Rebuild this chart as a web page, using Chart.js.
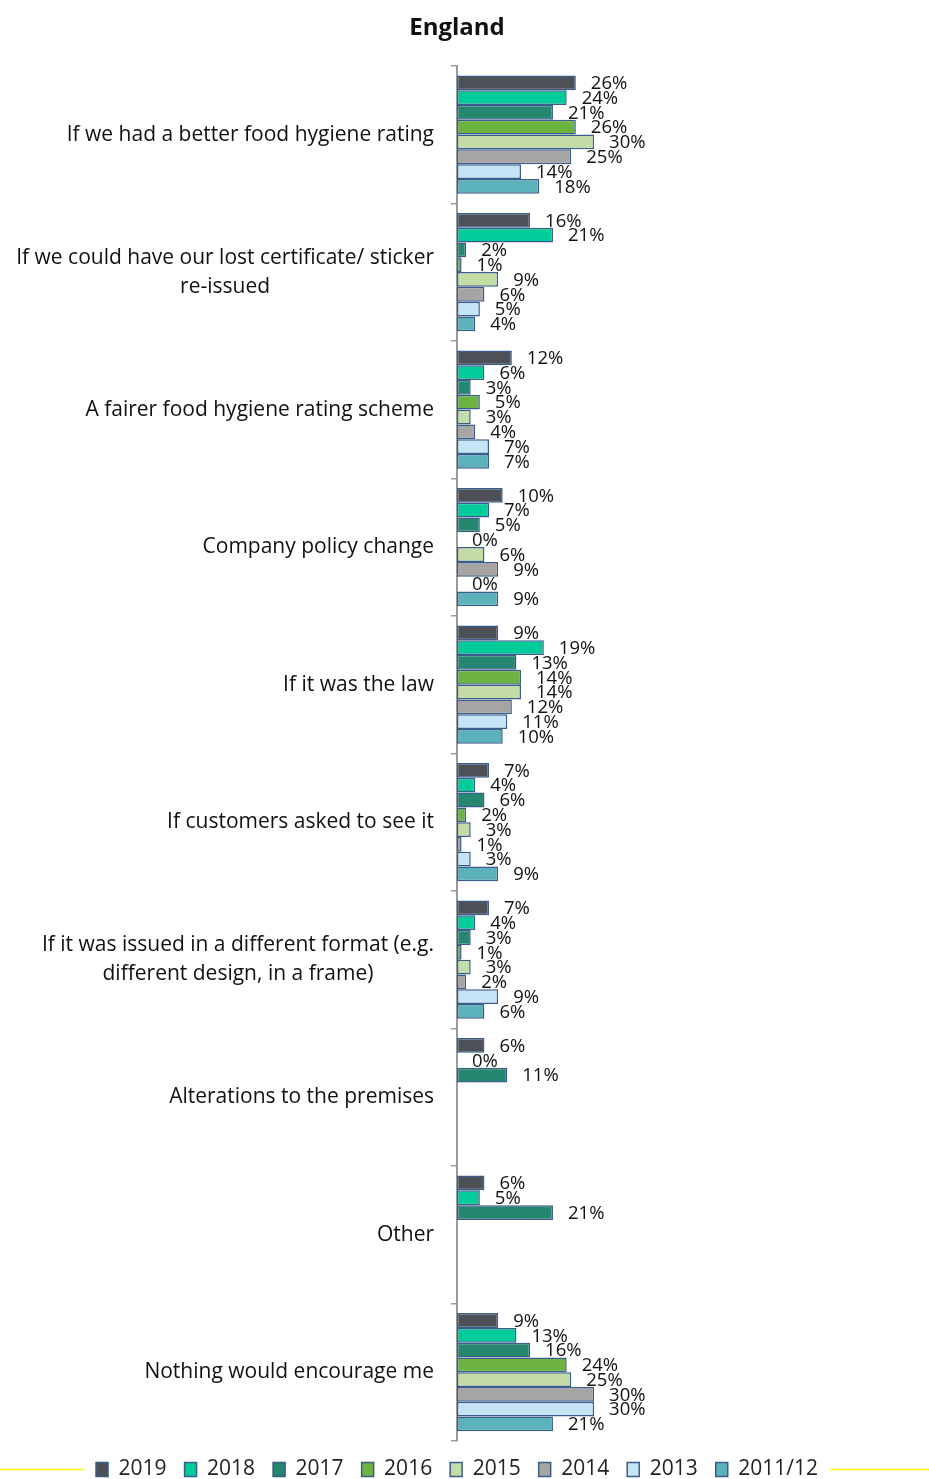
<!DOCTYPE html>
<html>
<head>
<meta charset="utf-8">
<script src="https://cdn.jsdelivr.net/npm/chart.js@4.4.1/dist/chart.umd.min.js"></script>
<style>
html, body { margin: 0; padding: 0; background: #fff; }
#grafico-container { width: 929px; height: 1479px; }
</style>
</head>
<body>
<div id="grafico-container"><canvas id="grafico"></canvas></div>
<script>
const categorias = [
    'If we had a better food hygiene rating',
    ['If we could have our lost certificate/ sticker', 're-issued'],
    'A fairer food hygiene rating scheme',
    'Company policy change',
    'If it was the law',
    'If customers asked to see it',
    ['If it was issued in a different format (e.g.', 'different design, in a frame)'],
    'Alterations to the premises',
    'Other',
    'Nothing would encourage me'
];

const anos = ['2019', '2018', '2017', '2016', '2015', '2014', '2013', '2011/12'];

const valores2019 = [26, 16, 12, 10, 9, 7, 7, 6, 6, 9];
const valores2018 = [24, 21, 6, 7, 19, 4, 4, 0, 5, 13];
const valores2017 = [21, 2, 3, 5, 13, 6, 3, 11, 21, 16];
const valores2016 = [26, 1, 5, 0, 14, 2, 1, null, null, 24];
const valores2015 = [30, 9, 3, 6, 14, 3, 3, null, null, 25];
const valores2014 = [25, 6, 4, 9, 12, 1, 2, null, null, 30];
const valores2013 = [14, 5, 7, 0, 11, 3, 9, null, null, 30];
const valores2011 = [18, 4, 7, 9, 10, 9, 6, null, null, 21];

const series = [valores2019, valores2018, valores2017, valores2016, valores2015, valores2014, valores2013, valores2011];
const cores = ['#4D5157', '#00CC99', '#25876F', '#6DB33F', '#C4DDA6', '#A7A4A4', '#C5E5F7', '#5BB2BA'];

// rótulos do eixo Y, linhas centradas entre si como no Excel
const rotulosEixo = {
    id: 'rotulosEixo',
    afterDraw(chart) {
        const ctx = chart.ctx;
        const eixo = chart.scales.y;
        ctx.save();
        ctx.font = '21px "Open Sans"';
        ctx.fillStyle = '#111';
        ctx.textAlign = 'center';
        ctx.textBaseline = 'middle';
        categorias.forEach((cat, i) => {
            const linhas = Array.isArray(cat) ? cat : [cat];
            const largura = Math.max(...linhas.map(l => ctx.measureText(l).width));
            const centroX = eixo.right - 23 - largura / 2;
            const altura = 29;
            const y0 = eixo.getPixelForTick(i) - (linhas.length - 1) * altura / 2;
            linhas.forEach((l, j) => ctx.fillText(l, centroX, y0 + j * altura));
        });
        ctx.restore();
    }
};

const rotulosValores = {
    id: 'rotulosValores',
    afterDatasetsDraw(chart) {
        const ctx = chart.ctx;
        ctx.save();
        ctx.font = '18.5px "Open Sans"';
        ctx.fillStyle = '#111';
        ctx.textAlign = 'left';
        ctx.textBaseline = 'middle';
        chart.data.datasets.forEach((ds, i) => {
            const meta = chart.getDatasetMeta(i);
            meta.data.forEach((barra, j) => {
                const v = ds.data[j];
                if (v === null || v === undefined) return;
                ctx.fillText(v + '%', barra.x + 15, barra.y + 1);
            });
        });
        ctx.restore();
    }
};

const linhasLegenda = {
    id: 'linhasLegenda',
    afterDraw(chart) {
        const caixas = chart.legend.legendHitBoxes;
        if (!caixas || !caixas.length) return;
        const primeira = caixas[0];
        const ultima = caixas[caixas.length - 1];
        const y = primeira.top + primeira.height / 2;
        const ctx = chart.ctx;
        ctx.save();
        ctx.strokeStyle = '#FFFF00';
        ctx.lineWidth = 1.5;
        ctx.beginPath();
        ctx.moveTo(0, y);
        ctx.lineTo(primeira.left - 12, y);
        ctx.moveTo(ultima.left + ultima.width + 12, y);
        ctx.lineTo(chart.width, y);
        ctx.stroke();
        ctx.restore();
    }
};

const ctx = document.getElementById('grafico').getContext('2d');
new Chart(ctx, {
    type: 'bar',
    data: {
        labels: categorias,
        datasets: series.map((valores, i) => ({
            label: anos[i],
            data: valores,
            backgroundColor: cores[i],
            borderColor: '#3A5D8C',
            borderWidth: (c) => (c.raw === 0 ? 0 : 1.5),
            borderSkipped: false,
            categoryPercentage: 0.86,
            barPercentage: 1
        }))
    },
    options: {
        indexAxis: 'y',
        responsive: true,
        maintainAspectRatio: false,
        animation: false,
        layout: { padding: { top: 0, right: 15, bottom: -11, left: 0 } },
        scales: {
            x: { display: false, min: 0, max: 100 },
            y: {
                afterFit: (scale) => { scale.width = 457; },
                ticks: { display: false },
                grid: {
                    drawOnChartArea: false,
                    drawTicks: true,
                    tickLength: 6,
                    color: '#9A9A9A',
                    lineWidth: 1.5
                },
                border: { display: true, color: '#9A9A9A', width: 2 }
            }
        },
        plugins: {
            title: {
                display: true,
                text: 'England',
                color: '#111',
                font: { family: 'Open Sans', size: 24, weight: 'bold' },
                padding: { top: 14, bottom: 23 }
            },
            legend: {
                position: 'bottom',
                labels: {
                    boxWidth: 12,
                    boxHeight: 14,
                    padding: 18,
                    color: '#222',
                    font: { family: 'Open Sans', size: 21 }
                }
            },
            tooltip: { enabled: false }
        }
    },
    plugins: [rotulosEixo, rotulosValores, linhasLegenda]
});
</script>
</body>
</html>
